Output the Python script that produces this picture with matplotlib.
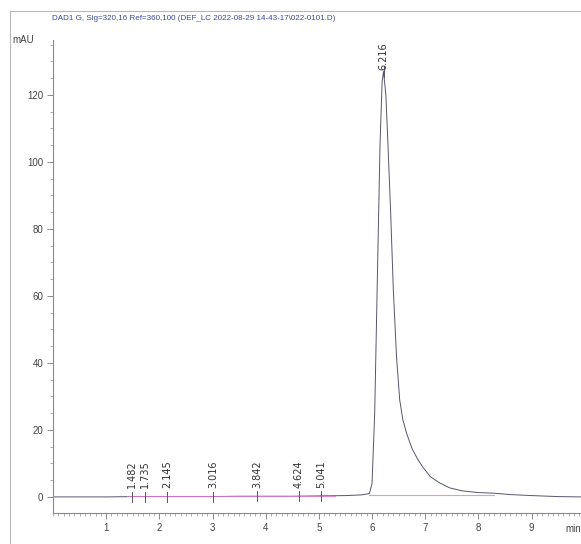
import matplotlib
matplotlib.use("Agg")
import matplotlib.pyplot as plt
from matplotlib.ticker import MultipleLocator

plt.rcParams['font.family'] = ['Liberation Sans Narrow', 'Liberation Sans', 'DejaVu Sans']

# Signal trace (retention time in min, absorbance in mAU)
time_min = [0.0, 0.5, 1.0, 1.5, 2.0, 2.5, 3.0, 3.5, 4.0, 4.5, 5.0, 5.5, 5.8, 5.95,
            6.0, 6.05, 6.1, 6.15, 6.19, 6.216, 6.26, 6.3, 6.35, 6.4, 6.46, 6.52,
            6.58, 6.65, 6.75, 6.85, 6.95, 7.1, 7.27, 7.46, 7.7, 8.0, 8.3, 8.6,
            9.0, 9.5, 9.95]
signal_mau = [0.0, 0.0, 0.0, 0.1, 0.1, 0.1, 0.1, 0.2, 0.2, 0.2, 0.3, 0.4, 0.6, 1.0,
              4.0, 25.0, 65.0, 105.0, 124.0, 127.0, 120.0, 105.0, 85.0, 62.0, 42.0, 29.0,
              23.0, 19.0, 14.5, 11.5, 9.0, 6.0, 4.2, 2.7, 1.8, 1.3, 1.1, 0.7,
              0.4, 0.1, 0.0]

# Integrated peaks: retention-time labels
peak_labels = ["1.482", "1.735", "2.145", "3.016", "3.842", "4.624", "5.041", "6.216"]
peak_times = [1.482, 1.735, 2.145, 3.016, 3.842, 4.624, 5.041, 6.216]
peak_heights = [0.1, 0.1, 0.1, 0.1, 0.2, 0.2, 0.3, 127.0]

# Integration baseline segments (start, end) in min
baseline_start = [1.40, 5.95]
baseline_end = [5.30, 8.30]
baseline_level = [0.3, 0.6]

x_ticks = [1, 2, 3, 4, 5, 6, 7, 8, 9]
y_ticks = [0, 20, 40, 60, 80, 100, 120]

title = "DAD1 G, Sig=320,16 Ref=360,100 (DEF_LC 2022-08-29 14-43-17\\022-0101.D)"

fig = plt.figure(figsize=(5.81, 5.44), dpi=100)
# outer frame
frame = fig.add_axes([10 / 581, 0, 1, 1 - 11 / 544])
frame.set_xticks([])
frame.set_yticks([])
for side in ("right", "bottom"):
    frame.spines[side].set_visible(False)
for side in ("left", "top"):
    frame.spines[side].set_color("#b8b8b8")
    frame.spines[side].set_linewidth(0.8)
frame.patch.set_alpha(0)

ax = fig.add_axes([53 / 581, 1 - 513 / 544, 528 / 581, 473 / 544])
ax.patch.set_alpha(0)
ax.set_xlim(0, 9.93)
ax.set_ylim(-4.8, 136.4)

ax.plot(time_min, signal_mau, color="#55566e", lw=0.7)

for s, e, lv in zip(baseline_start, baseline_end, baseline_level):
    ax.plot([s, e], [lv, lv], color="#e27ad0", lw=0.8, alpha=0.8)

for t, h, lab in zip(peak_times, peak_heights, peak_labels):
    ax.plot([t, t], [h - 1.5, h + 1.5], color="#55566e", lw=0.7)
    y_text = h + 0.5 if h > 50 else 2.7
    ax.text(t, y_text, lab, rotation=90, ha="center", va="bottom",
            fontsize=7, color="#333333", family=["DejaVu Sans"])

for side in ("right", "top"):
    ax.spines[side].set_visible(False)
for side in ("left", "bottom"):
    ax.spines[side].set_color("#8a8a8a")
    ax.spines[side].set_linewidth(0.8)

ax.set_xticks(x_ticks)
ax.set_yticks(y_ticks)
ax.xaxis.set_minor_locator(MultipleLocator(0.1))
ax.yaxis.set_minor_locator(MultipleLocator(5))
ax.tick_params(axis="both", which="major", length=4, width=0.7, color="#8a8a8a",
               labelsize=7, labelcolor="#444444", pad=3)
ax.tick_params(axis="both", which="minor", length=2.5, width=0.6, color="#a0a0a0")

ax.text(-0.035, 1.0, "mAU", transform=ax.transAxes, ha="right", va="center",
        fontsize=7, color="#444444")
ax.text(1.0, -0.034, "min", transform=ax.transAxes, ha="right", va="center",
        fontsize=7, color="#444444")
fig.text(52 / 581, 1 - 18 / 544, title, ha="left", va="center", fontsize=5.8,
         color="#3a4a9a")

fig.savefig("out.png", dpi=100)
